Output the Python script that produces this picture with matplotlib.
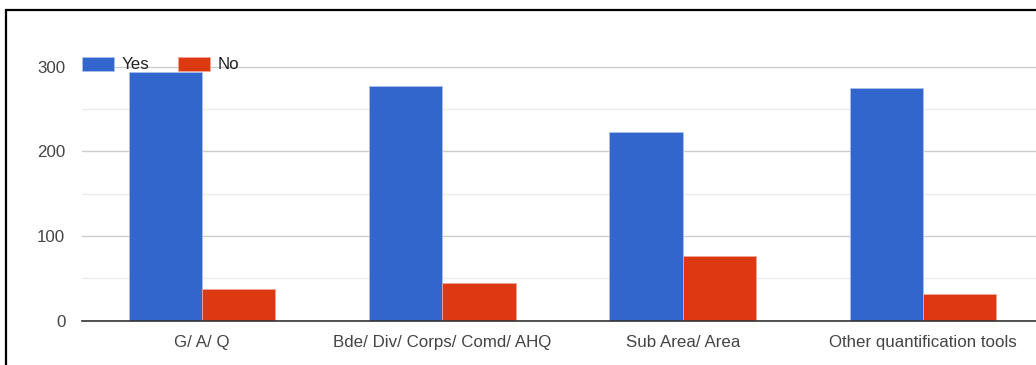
import numpy as np
import matplotlib.pyplot as plt
from matplotlib.patches import Rectangle
from matplotlib.ticker import MultipleLocator

categories = ["G/ A/ Q", "Bde/ Div/ Corps/ Comd/ AHQ", "Sub Area/ Area", "Other quantification tools"]
yes = [294, 277, 223, 275]
no = [37, 44, 76, 32]

plt.rcParams['font.family'] = ['Liberation Sans', 'DejaVu Sans']

fig = plt.figure(figsize=(10.36, 3.65), dpi=100)
top_val = 345
px_per_unit = (320.7 - 66.7) / 300
ax = fig.add_axes([82/1036, 44.3/365, 1 - 82/1036, top_val * px_per_unit / 365])

x = np.arange(len(categories))
w = 0.305
ax.bar(x - w/2, yes, w, color='#3366cc', edgecolor='#a9bfea', linewidth=0.6, label='Yes', zorder=3)
ax.bar(x + w/2, no, w, color='#dc3912', edgecolor='#f0a596', linewidth=0.6, label='No', zorder=3)

ax.set_xlim(-0.5, 3.47)
ax.set_ylim(0, top_val)
ax.set_yticks([0, 100, 200, 300])
ax.yaxis.set_minor_locator(MultipleLocator(50))
ax.grid(axis='y', which='major', color='#cccccc', linewidth=1, zorder=0)
ax.grid(axis='y', which='minor', color='#ebebeb', linewidth=1, zorder=0)
ax.set_axisbelow(True)
for s in ['top', 'right', 'left']:
    ax.spines[s].set_visible(False)
ax.spines['bottom'].set_color('#333333')
ax.spines['bottom'].set_linewidth(1.2)
ax.spines['bottom'].set_zorder(4)

ax.set_xticks(x)
ax.set_xticklabels(categories)
ax.tick_params(axis='both', which='both', length=0, labelsize=12.2, labelcolor='#444444')
ax.tick_params(axis='y', pad=12)
ax.tick_params(axis='x', pad=10)

leg = ax.legend(loc='center left', bbox_to_anchor=(0, (320.7 - 64.5) / (top_val * px_per_unit)),
                ncol=2, frameon=False, borderaxespad=0, borderpad=0,
                handlelength=1.9, handleheight=0.9, handletextpad=0.45,
                columnspacing=1.65, fontsize=12.2)
for t in leg.get_texts():
    t.set_color('#222222')

# outer border
fig.add_artist(Rectangle((6/1036, -0.1), 1.2, (365 - 10)/365 + 0.1,
                         transform=fig.transFigure, fill=False,
                         edgecolor='black', linewidth=1.6))

fig.savefig('out.png', dpi=100)
